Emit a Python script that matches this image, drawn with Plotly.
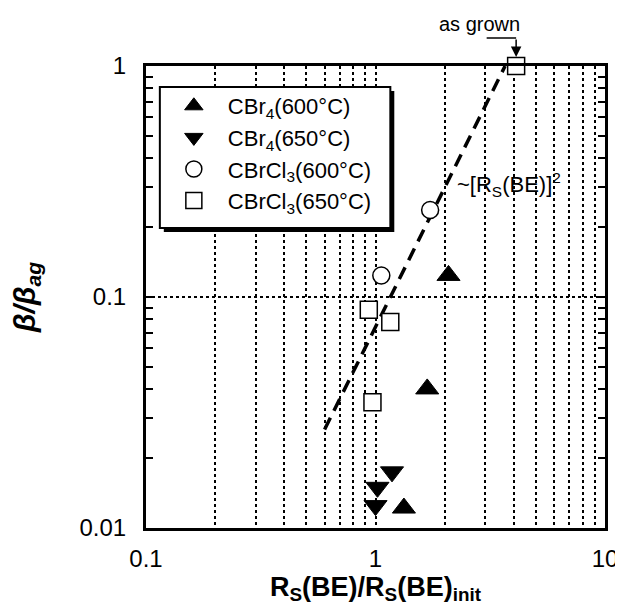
import math
import plotly.graph_objects as go

# ---- data ----
cbr4_600_x = [2.08, 1.68, 1.33]
cbr4_600_y = [0.124, 0.040, 0.0122]
cbr4_650_x = [1.18, 1.02, 1.00]
cbr4_650_y = [0.0175, 0.0150, 0.0125]
cbrcl3_600_x = [1.73, 1.06]
cbrcl3_600_y = [0.238, 0.124]
cbrcl3_650_x = [4.1, 0.935, 1.16, 0.97]
cbrcl3_650_y = [1.0, 0.088, 0.078, 0.035]
fit_x = [0.6, 3.67]
fit_y = [0.0267, 1.0]
as_grown_x = 4.1
as_grown_y = 1.0

x_major = [0.1, 1, 10]
x_major_text = ["0.1", "1", "10"]
x_minor = [0.2, 0.3, 0.4, 0.5, 0.6, 0.7, 0.8, 0.9, 2, 3, 4, 5, 6, 7, 8, 9]
y_major = [0.01, 0.1, 1]
y_major_text = ["0.01", "0.1", "1"]
y_minor = [0.02, 0.03, 0.04, 0.05, 0.06, 0.07, 0.08, 0.09,
           0.2, 0.3, 0.4, 0.5, 0.6, 0.7, 0.8, 0.9]

FONT = "Liberation Sans, Arial, sans-serif"

# plot-area geometry (pixels)
L, R, T, B = 133, 26, 58, 84
W, H = 623, 604
PW, PH = W - L - R, H - T - B


def px(x):
    return (x - L) / PW


def py(y):
    return 1 - (y - T) / PH


fig = go.Figure()

fig.add_trace(go.Scatter(x=fit_x, y=fit_y, mode="lines",
                         line=dict(color="black", width=3.5, dash="13px,8px"),
                         showlegend=False, hoverinfo="skip"))

fig.add_trace(go.Scatter(x=cbr4_600_x, y=cbr4_600_y, mode="markers",
                         name="CBr<sub>4</sub>(600°C)", cliponaxis=False,
                         marker=dict(symbol="triangle-up", size=20, color="black",
                                     line=dict(color="black", width=1))))
fig.add_trace(go.Scatter(x=cbr4_650_x, y=cbr4_650_y, mode="markers",
                         name="CBr<sub>4</sub>(650°C)", cliponaxis=False,
                         marker=dict(symbol="triangle-down", size=20, color="black",
                                     line=dict(color="black", width=1))))
fig.add_trace(go.Scatter(x=cbrcl3_600_x, y=cbrcl3_600_y, mode="markers",
                         name="CBrCl<sub>3</sub>(600°C)", cliponaxis=False,
                         marker=dict(symbol="circle", size=17, color="white",
                                     line=dict(color="black", width=1.5))))
fig.add_trace(go.Scatter(x=cbrcl3_650_x, y=cbrcl3_650_y, mode="markers",
                         name="CBrCl<sub>3</sub>(650°C)", cliponaxis=False,
                         marker=dict(symbol="square", size=17, color="white",
                                     line=dict(color="black", width=1.5))))

fig.update_xaxes(type="log", range=[-1, 1],
                 tickmode="array", tickvals=x_major, ticktext=x_major_text,
                 ticks="", ticklabelstandoff=7,
                 showgrid=True, gridcolor="black", gridwidth=2, griddash="dot",
                 showline=True, linecolor="black", linewidth=3, mirror=True,
                 zeroline=False,
                 tickfont=dict(family=FONT, size=24, color="black"),
                 minor=dict(tickmode="array", tickvals=x_minor, showgrid=True,
                            gridcolor="black", gridwidth=2, griddash="dot", ticks=""),
                 title=dict(text="<b>R<sub>S</sub>(BE)/R<sub>S</sub>(BE)<sub>init</sub></b>",
                            font=dict(family=FONT, size=27, color="black"), standoff=2))
fig.update_yaxes(type="log", range=[-2, 0],
                 tickmode="array", tickvals=y_major, ticktext=y_major_text,
                 ticks="inside", ticklen=8, tickwidth=2, tickcolor="black",
                 ticklabelstandoff=12,
                 showgrid=True, gridcolor="black", gridwidth=2, griddash="dot",
                 showline=True, linecolor="black", linewidth=3, mirror="allticks",
                 zeroline=False,
                 tickfont=dict(family=FONT, size=24, color="black"),
                 minor=dict(tickmode="array", tickvals=y_minor, showgrid=False,
                            ticks="inside", ticklen=7, tickwidth=2, tickcolor="black"),
                 title=dict(text="<b><i>β/β<sub>ag</sub></i></b>",
                            font=dict(family=FONT, size=30, color="black"), standoff=38))

# legend box with drop shadow
fig.add_shape(type="rect", xref="paper", yref="paper", layer="above",
              x0=px(151), x1=px(384), y0=py(224), y1=py(83),
              fillcolor="black", line=dict(width=0))
fig.add_shape(type="rect", xref="paper", yref="paper", layer="above",
              x0=px(147), x1=px(380), y0=py(220), y1=py(79),
              fillcolor="white", line=dict(color="black", width=2))

# "as grown" callout
fig.add_annotation(x=math.log10(as_grown_x), y=math.log10(as_grown_y), xref="x", yref="y",
                   ax=0, ay=-(T - 30), axref="pixel", ayref="pixel",
                   text="", showarrow=True, arrowhead=2, arrowsize=1.4, arrowwidth=1.5,
                   arrowcolor="black", standoff=9)
fig.add_shape(type="line", xref="x", yref="paper", x0=3.05, x1=as_grown_x,
              y0=py(30), y1=py(30), line=dict(color="black", width=1.5))
fig.add_annotation(x=px(470), y=py(16), xref="paper", yref="paper",
                   text="as grown", showarrow=False, xanchor="center", yanchor="middle",
                   font=dict(family=FONT, size=20, color="black"))
fig.add_annotation(x=px(445), y=py(176), xref="paper", yref="paper",
                   text="~[R<sub>S</sub>(BE)]<sup>2</sup>", showarrow=False,
                   xanchor="left", yanchor="middle",
                   font=dict(family=FONT, size=22, color="black"))

fig.update_layout(
    width=W, height=H,
    margin=dict(l=L, r=R, t=T, b=B),
    paper_bgcolor="white", plot_bgcolor="white",
    showlegend=True,
    legend=dict(x=px(147), y=py(77), xanchor="left", yanchor="top",
                bgcolor="rgba(0,0,0,0)", borderwidth=0,
                font=dict(family=FONT, size=22, color="black"),
                tracegroupgap=0, itemsizing="trace", itemwidth=58),
)

fig.write_html("out.html")
